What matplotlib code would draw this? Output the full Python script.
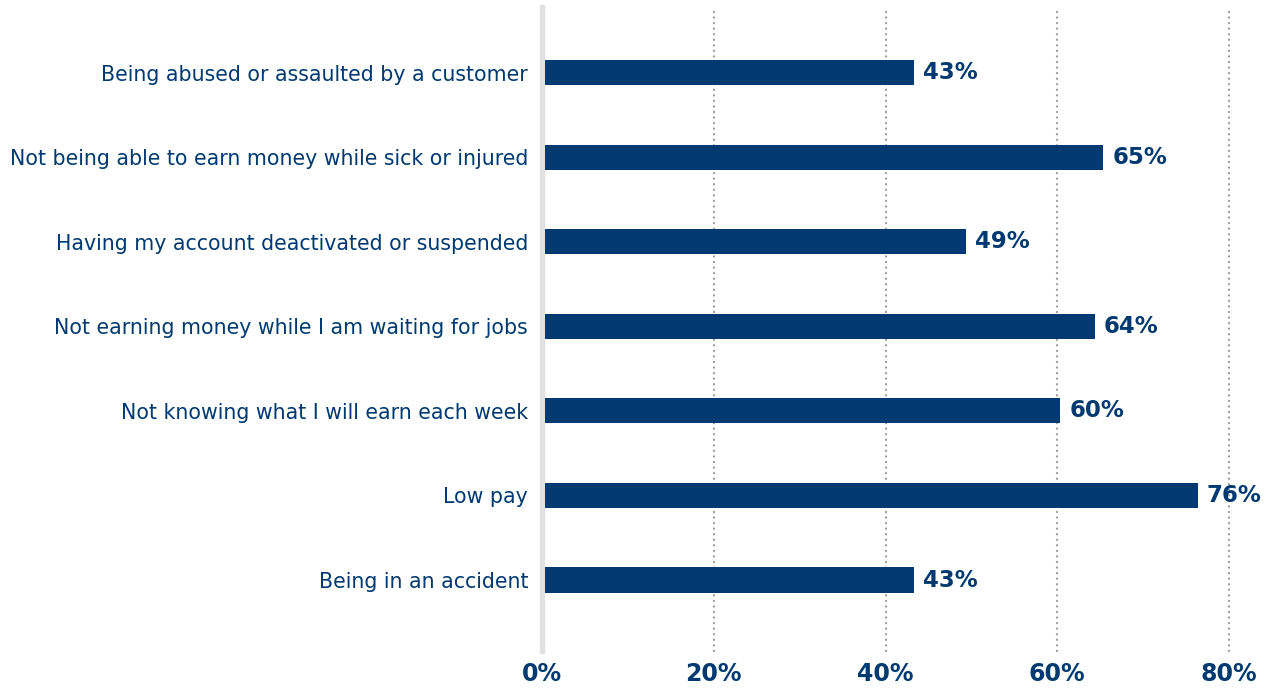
import matplotlib
matplotlib.use("Agg")
import matplotlib.pyplot as plt

# Survey: concerns about gig work (share of respondents)
categories = [
    "Being abused or assaulted by a customer",
    "Not being able to earn money while sick or injured",
    "Having my account deactivated or suspended",
    "Not earning money while I am waiting for jobs",
    "Not knowing what I will earn each week",
    "Low pay",
    "Being in an accident",
]
values = [43, 65, 49, 64, 60, 76, 43]
tick_values = [0, 20, 40, 60, 80]
tick_labels = ["0%", "20%", "40%", "60%", "80%"]

NAVY = "#003A70"
plt.rcParams["font.family"] = ["DejaVu Sans"]

W, H = 1277, 688
fig = plt.figure(figsize=(W / 100, H / 100), dpi=100)
ax = fig.add_axes([542 / W, 1 - 651 / H, (1229 - 542) / W, (651 - 7) / H])

ypos = list(range(len(categories)))
ax.barh(ypos, values, left=0.35, height=0.296, color=NAVY, zorder=3)

for y, v in zip(ypos, values):
    ax.text(v + 1.4, y, f"{v}%", va="center", ha="left", fontsize=16.5,
            fontweight="bold", color=NAVY, clip_on=False, zorder=4)

ax.set_xlim(0, 80)
ax.set_ylim(len(categories) - 1 + 0.84, -0.78)

# dotted vertical gridlines
for t in tick_values[1:]:
    ax.axvline(t, color="#9c9c9c", lw=1.6, linestyle=(0, (0.1, 2.4)),
               dash_capstyle="round", zorder=1, clip_on=False)

ax.set_yticks(ypos)
ax.set_yticklabels(categories, fontsize=14.8, color=NAVY)
ax.set_xticks(tick_values)
ax.set_xticklabels(tick_labels, fontsize=17, fontweight="bold", color=NAVY)
ax.tick_params(axis="both", length=0)
ax.tick_params(axis="y", pad=10)
ax.tick_params(axis="x", pad=8)

for s in ["top", "right", "bottom"]:
    ax.spines[s].set_visible(False)
ax.spines["left"].set_color("#e1e1e1")
ax.spines["left"].set_linewidth(3.8)
ax.spines["left"].set_zorder(2)

fig.savefig("out.png", dpi=100, facecolor="white")
